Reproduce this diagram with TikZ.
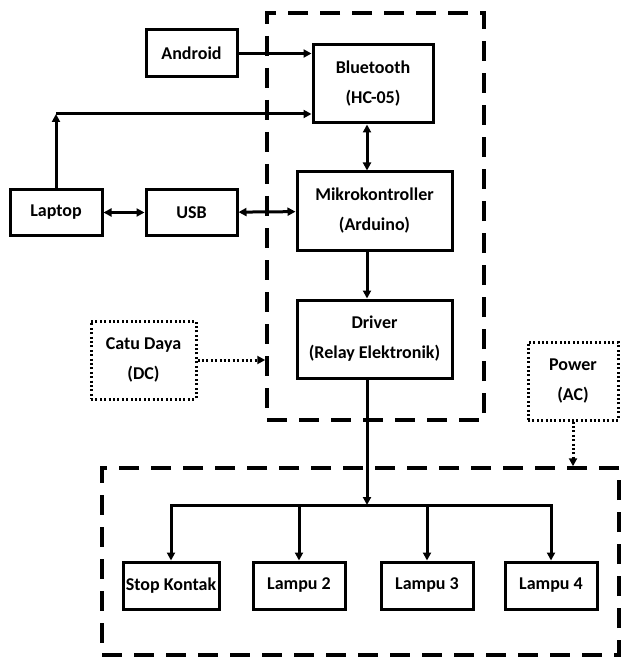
\documentclass[tikz,border=0pt]{standalone}
\usepackage{fontspec}
\setmainfont{Carlito}
\usetikzlibrary{arrows.meta}

\tikzset{
  block/.style={draw, line width=3pt, font=\bfseries\fontsize{18}{30}\selectfont, align=center, inner sep=2pt},
  supply/.style={block, dash pattern=on 2pt off 2.4pt},
  group/.style={draw, line width=3.5pt, dash pattern=on 20pt off 12pt, inner sep=0pt},
  link/.style={line width=3pt},
  dotlink/.style={line width=3pt, dash pattern=on 2pt off 2.4pt}
}

\begin{document}
\begin{tikzpicture}[x=1pt,y=-1pt,>={Triangle[length=8pt,width=8pt]}]
\useasboundingbox (0,0) rectangle (621,660);
\node (ctrl) [group, minimum width=217pt, minimum height=407pt] at (375.5,216.5) {};
\node (load) [group, minimum width=517pt, minimum height=187pt] at (360.5,561.5) {};
\node (android) [block, minimum width=91pt, minimum height=47pt] at (191.5,53.5) {Android};
\node (bt) [block, minimum width=120pt, minimum height=78pt] at (373,84) {Bluetooth\\(HC-05)};
\node (laptop) [block, minimum width=92pt, minimum height=45pt] at (56,212.5) {Laptop};
\node (usb) [block, minimum width=91pt, minimum height=45pt] at (191.5,212.5) {USB};
\node (mk) [block, minimum width=155pt, minimum height=78pt] at (374.5,211) {Mikrokontroller\\(Arduino)};
\node (drv) [block, minimum width=155pt, minimum height=78pt] at (374.5,339) {Driver\\(Relay Elektronik)};
\node (catu) [supply, minimum width=105pt, minimum height=78pt] at (143.5,360) {Catu Daya\\(DC)};
\node (power) [supply, minimum width=90pt, minimum height=78pt] at (573,381) {Power\\(AC)};
\node (sk) [block, minimum width=96pt, minimum height=47pt] at (171,585.5) {Stop Kontak};
\node (l2) [block, minimum width=92pt, minimum height=47pt] at (299,585.5) {Lampu 2};
\node (l3) [block, minimum width=92pt, minimum height=47pt] at (427,585.5) {Lampu 3};
\node (l4) [block, minimum width=92pt, minimum height=47pt] at (551,585.5) {Lampu 4};
\coordinate (lup) at (56,114);
\coordinate (spine) at (367,0);
\coordinate (hub) at (367,505);
\draw[link,->] (android) -- (android -| bt.west);
\draw[link,->] (laptop) -- (lup);
\draw[link,->] (lup) -- (lup -| bt.west);
\draw[link,<->] (laptop) -- (usb);
\draw[link,<->] (usb) -- (mk);
\draw[link,<->] (bt.south -| spine) -- (mk.north -| spine);
\draw[link,->] (mk.south -| spine) -- (drv.north -| spine);
\draw[link,->] (drv.south -| spine) -- (hub);
\foreach \n in {sk,l2,l3,l4}
  \draw[link,->] (hub) -| (\n);
\draw[dotlink,->] (catu) -- (catu -| ctrl.west);
\draw[dotlink,->] (power) -- (power |- load.north);
\end{tikzpicture}
\end{document}
